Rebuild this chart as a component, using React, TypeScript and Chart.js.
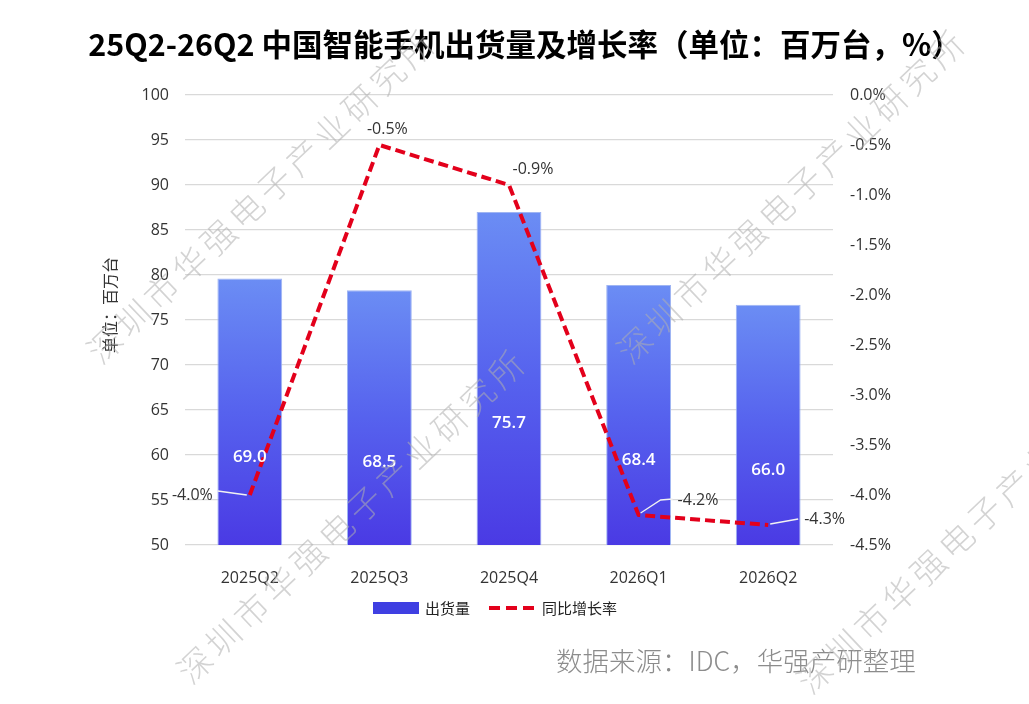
import React, { useEffect, useRef } from 'react'
import Chart, { ChartConfiguration, Plugin } from 'chart.js/auto'

// categories
const quarters = ['2025Q2', '2025Q3', '2025Q4', '2026Q1', '2026Q2']
// bar heights as drawn against the left axis
const shipmentBars = [79.6, 78.3, 87.0, 78.9, 76.7]
// values printed on the bars (百万台)
const shipmentLabels = ['69.0', '68.5', '75.7', '68.4', '66.0']
// 同比增长率 (%)
const growthRates = [-4.0, -0.5, -0.9, -4.2, -4.3]

const titleText = '25Q2-26Q2 中国智能手机出货量及增长率（单位：百万台，%）'
const yTitle = '单位：百万台'
const sourceText = '数据来源：IDC，华强产研整理'
const watermark = '深圳市华强电子产业研究所'

const FONT = '"Open Sans", "Noto Sans CJK SC", sans-serif'
const CJK = '"Noto Sans CJK SC", sans-serif'
const RED = '#e3001b'

const overlay: Plugin<'bar'> = {
  id: 'overlay',
  afterDatasetsDraw(chart) {
    const ctx = chart.ctx
    const x = chart.scales.x
    const y = chart.scales.y
    const y1 = chart.scales.y1
    ctx.save()

    // values inside the bars
    ctx.fillStyle = '#fff'
    ctx.font = `600 17px ${FONT}`
    ctx.textAlign = 'center'
    ctx.textBaseline = 'middle'
    shipmentBars.forEach((v, i) => {
      ctx.fillText(shipmentLabels[i], x.getPixelForValue(i), y.getPixelForValue((v + 40) / 2))
    })

    // growth rate labels
    ctx.font = `16px ${FONT}`
    ctx.fillStyle = '#333'
    ctx.strokeStyle = '#f2f2f2'
    ctx.lineWidth = 1.3
    growthRates.forEach((v, i) => {
      const px = x.getPixelForValue(i)
      const py = y1.getPixelForValue(v)
      const txt = v.toFixed(1) + '%'
      if (i === 0) {
        ctx.beginPath()
        ctx.moveTo(px - 32, py - 4)
        ctx.lineTo(px - 3, py)
        ctx.stroke()
        ctx.textAlign = 'right'
        ctx.fillText(txt, px - 37, py)
      } else if (i === 1) {
        ctx.textAlign = 'center'
        ctx.fillText(txt, px + 8, py - 16)
      } else if (i === 2) {
        ctx.textAlign = 'center'
        ctx.fillText(txt, px + 24, py - 16)
      } else if (i === 3) {
        ctx.beginPath()
        ctx.moveTo(px + 2, py - 2)
        ctx.lineTo(px + 22, py - 15)
        ctx.lineTo(px + 34, py - 16)
        ctx.stroke()
        ctx.textAlign = 'left'
        ctx.fillText(txt, px + 39, py - 15)
      } else {
        ctx.beginPath()
        ctx.moveTo(px + 2, py - 1)
        ctx.lineTo(px + 30, py - 6)
        ctx.stroke()
        ctx.textAlign = 'left'
        ctx.fillText(txt, px + 36, py - 6)
      }
    })
    ctx.restore()
  },
  afterDraw(chart) {
    const ctx = chart.ctx
    ctx.save()

    // title
    ctx.fillStyle = '#000'
    ctx.font = `bold 30.5px ${CJK}`
    ctx.textAlign = 'center'
    ctx.textBaseline = 'middle'
    ctx.fillText(titleText, 525, 44)

    // left axis title
    ctx.save()
    ctx.translate(110, 305)
    ctx.rotate(-Math.PI / 2)
    ctx.font = `16px ${CJK}`
    ctx.fillStyle = '#333'
    ctx.fillText(yTitle, 0, 0)
    ctx.restore()

    // legend
    ctx.fillStyle = '#3f3fe2'
    ctx.fillRect(373, 602, 46, 12)
    ctx.font = `15px ${CJK}`
    ctx.fillStyle = '#222'
    ctx.textAlign = 'left'
    ctx.fillText('出货量', 425, 608)
    ctx.strokeStyle = RED
    ctx.lineWidth = 4
    ctx.setLineDash([11, 6])
    ctx.beginPath()
    ctx.moveTo(489, 608)
    ctx.lineTo(535, 608)
    ctx.stroke()
    ctx.setLineDash([])
    ctx.fillText('同比增长率', 542, 608)

    // source
    ctx.font = `300 26.5px ${CJK}`
    ctx.fillStyle = '#8c8c8c'
    ctx.fillText(sourceText, 556, 661)

    // watermarks
    ctx.font = `200 34px ${CJK}`
    ;(ctx as any).letterSpacing = '5px'
    ctx.fillStyle = 'rgba(175,175,175,0.55)'
    const spots = [
      [105, 345],
      [195, 665],
      [635, 345],
      [815, 675]
    ]
    spots.forEach(([sx, sy]) => {
      ctx.save()
      ctx.translate(sx, sy)
      ctx.rotate(-0.76)
      ctx.textAlign = 'left'
      ctx.textBaseline = 'middle'
      ctx.fillText(watermark, -17, 0)
      ctx.restore()
    })
    ;(ctx as any).letterSpacing = '0px'
    ctx.restore()
  }
}

const App: React.FC = () => {
  const canvasRef = useRef<HTMLCanvasElement | null>(null)

  useEffect(() => {
    if (!canvasRef.current) return

    const config: ChartConfiguration<'bar'> = {
      type: 'bar',
      data: {
        labels: quarters,
        datasets: [
          {
            type: 'line' as any,
            label: '同比增长率',
            data: growthRates,
            yAxisID: 'y1',
            borderColor: RED,
            borderWidth: 4,
            borderDash: [10, 5],
            borderJoinStyle: 'round',
            pointRadius: 0,
            tension: 0,
            fill: false,
            order: 0
          } as any,
          {
            label: '出货量',
            data: shipmentBars,
            yAxisID: 'y',
            order: 1,
            barPercentage: 0.5,
            categoryPercentage: 1,
            borderWidth: 1,
            borderColor: '#9fb5f3',
            backgroundColor: (c: any) => {
              const chart = c.chart
              const area = chart.chartArea
              if (!area || c.raw === undefined) return '#4f5ef0'
              const top = chart.scales.y.getPixelForValue(c.raw)
              const g = chart.ctx.createLinearGradient(0, top, 0, area.bottom)
              g.addColorStop(0, '#6b8df4')
              g.addColorStop(0.5, '#5662ee')
              g.addColorStop(1, '#4a3ae4')
              return g
            }
          }
        ]
      },
      options: {
        responsive: false,
        animation: false,
        layout: { padding: { top: 95, left: 0, right: 0, bottom: 0 } },
        plugins: {
          legend: { display: false },
          title: { display: false },
          tooltip: { enabled: false }
        },
        scales: {
          x: {
            grid: { display: false },
            border: { display: false },
            ticks: { padding: 16, color: '#333', font: { family: FONT, size: 16 } },
            afterFit: (s: any) => {
              s.height = 159
            }
          },
          y: {
            position: 'left',
            min: 50,
            max: 100,
            ticks: { stepSize: 5, padding: 16, color: '#333', font: { family: FONT, size: 16 } },
            grid: { color: '#d9d9d9', lineWidth: 1.2, drawTicks: false },
            border: { display: false },
            afterFit: (s: any) => {
              s.width = 185
            }
          },
          y1: {
            position: 'right',
            min: -4.5,
            max: 0,
            ticks: {
              stepSize: 0.5,
              padding: 17,
              color: '#333',
              font: { family: FONT, size: 16 },
              callback: (v: any) => Number(v).toFixed(1) + '%'
            },
            grid: { display: false, drawTicks: false },
            border: { display: false },
            afterFit: (s: any) => {
              s.width = 196
            }
          }
        }
      },
      plugins: [overlay]
    }

    const chart = new Chart(canvasRef.current, config)
    return () => {
      chart.destroy()
    }
  }, [])

  return (
    <div style={{ position: 'fixed', left: 0, top: 0, width: 1029, height: 704, background: '#fff' }}>
      <canvas ref={canvasRef} width={1029} height={704} />
    </div>
  )
}

export default App
